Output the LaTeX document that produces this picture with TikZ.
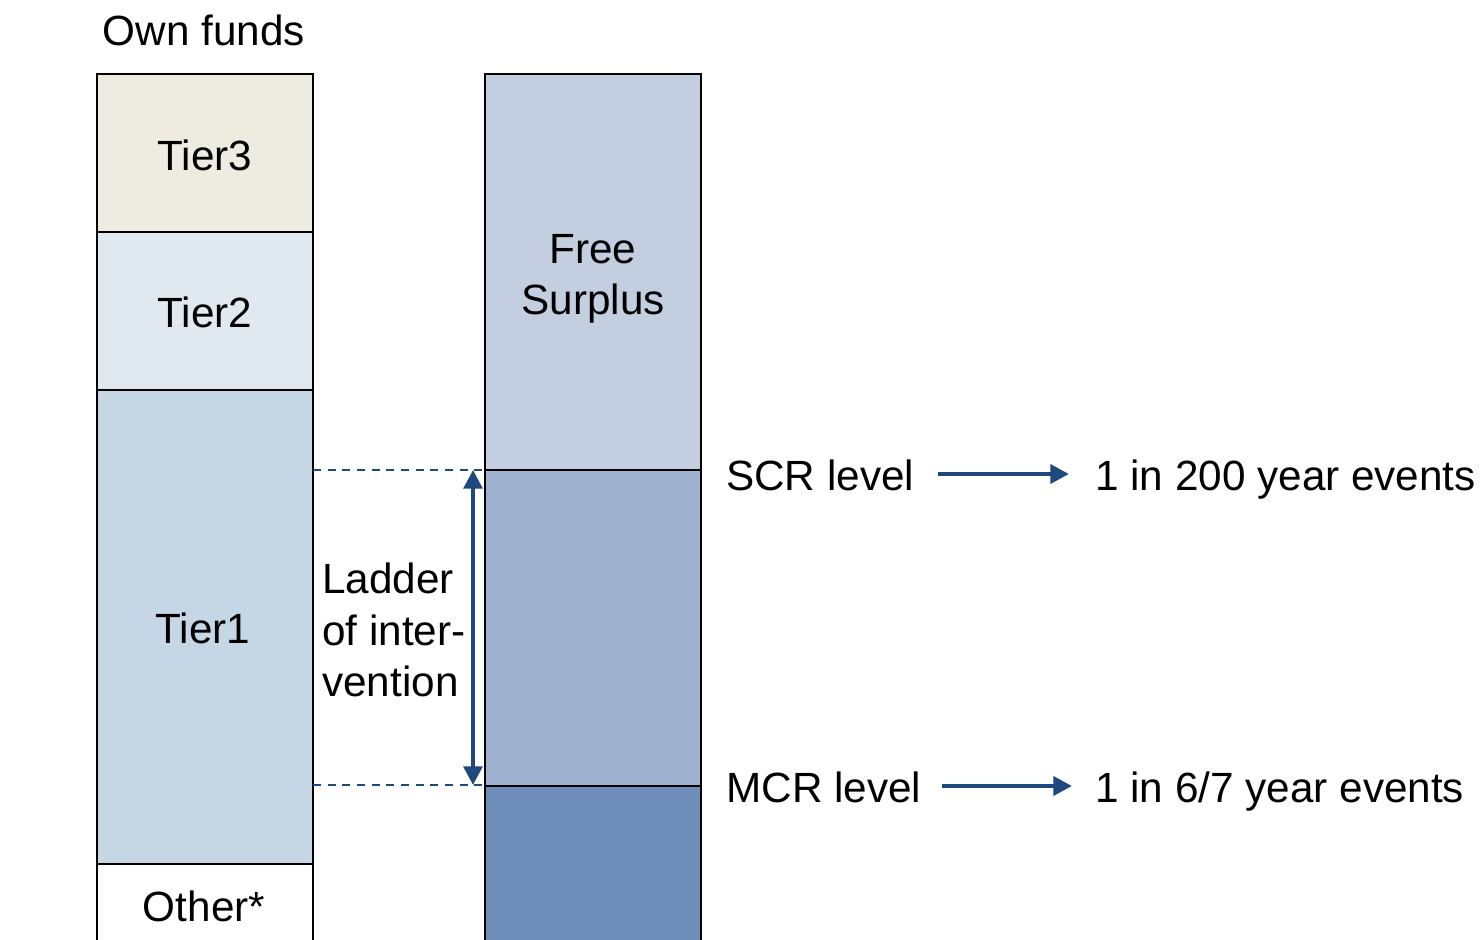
\documentclass[tikz,border=0pt]{standalone}
\usepackage{fontspec}
\setmainfont{Liberation Sans}
\usetikzlibrary{arrows.meta}
\definecolor{navy}{RGB}{31,73,125}
\definecolor{tierthree}{RGB}{238,235,224}
\definecolor{tiertwo}{RGB}{224,232,240}
\definecolor{tierone}{RGB}{197,214,229}
\definecolor{surplus}{RGB}{195,207,225}
\definecolor{ladderfill}{RGB}{158,177,207}
\definecolor{mcrfill}{RGB}{111,141,185}
\begin{document}
\begin{tikzpicture}[x=0.75pt,y=-0.75pt,
  block/.style={draw=black,line width=1.5pt},
  lbl/.style={font=\fontsize{31.7}{35}\selectfont,inner sep=0pt,text=black},
  guide/.style={navy,line width=1.5pt,dash pattern=on 6pt off 5pt},
  bigarrow/.style={navy,line width=3.5pt,-{Triangle[length=14pt,width=14pt]}},
  ladderarrow/.style={navy,line width=3pt,{Triangle[length=14pt,width=14pt]}-{Triangle[length=14pt,width=14pt]}}]
\useasboundingbox (0,0) rectangle (1483,939);
\clip (0,0) rectangle (1483,939);

% own funds column
\fill[tierthree] (97,74) rectangle (313,232);
\fill[tiertwo] (97,232) rectangle (313,390);
\fill[tierone] (97,390) rectangle (313,864);
\fill[white] (97,864) rectangle (313,945);
\draw[block] (97,945) -- (97,74) -- (313,74) -- (313,945);
\draw[block] (97,232) -- (313,232);
\draw[block] (97,390) -- (313,390);
\draw[block] (97,864) -- (313,864);

% capital requirement column
\fill[surplus] (485,74) rectangle (701,470);
\fill[ladderfill] (485,470) rectangle (701,786);
\fill[mcrfill] (485,786) rectangle (701,945);
\draw[block] (485,945) -- (485,74) -- (701,74) -- (701,945);
\draw[block] (485,470) -- (701,470);
\draw[block] (485,786) -- (701,786);

% level guides
\coordinate (scrL) at (313,470);
\coordinate (scrR) at (485,470);
\coordinate (mcrL) at (313,785);
\coordinate (mcrR) at (485,785);
\draw[guide] (scrL) -- (scrR);
\draw[guide] (mcrL) -- (mcrR);
\coordinate (ladTop) at (473,470);
\coordinate (ladBot) at (473,785);
\draw[ladderarrow] (ladTop) -- (ladBot);

% labels
\node[lbl,anchor=base] (own) at (204,45) {Own funds};
\node[lbl,anchor=base] (t3) at (205,170) {Tier3};
\node[lbl,anchor=base] (t2) at (205,327) {Tier2};
\node[lbl,anchor=base] (t1) at (203,643) {Tier1};
\node[lbl,anchor=base] (oth) at (204,921) {Other*};
\node[lbl,anchor=base] (fs1) at (593,263) {Free};
\node[lbl,anchor=base] (fs2) at (593,314) {Surplus};
\node[lbl,anchor=base west] (ld1) at (322,593) {Ladder};
\node[lbl,anchor=base west] (ld2) at (322,645) {of inter-};
\node[lbl,anchor=base west] (ld3) at (322,696) {vention};

\node[lbl,anchor=base west] (scr) at (726,490) {SCR level};
\node[lbl,anchor=base west] (e200) at (1095,490) {1 in 200 year events};
\node[lbl,anchor=base west] (mcr) at (726,802) {MCR level};
\node[lbl,anchor=base west] (e67) at (1095,802) {1 in 6/7 year events};

\coordinate (a1s) at (938,474);
\coordinate (a1e) at (1069,474);
\coordinate (a2s) at (942,786);
\coordinate (a2e) at (1072,786);
\draw[bigarrow] (a1s) -- (a1e);
\draw[bigarrow] (a2s) -- (a2e);
\end{tikzpicture}
\end{document}
